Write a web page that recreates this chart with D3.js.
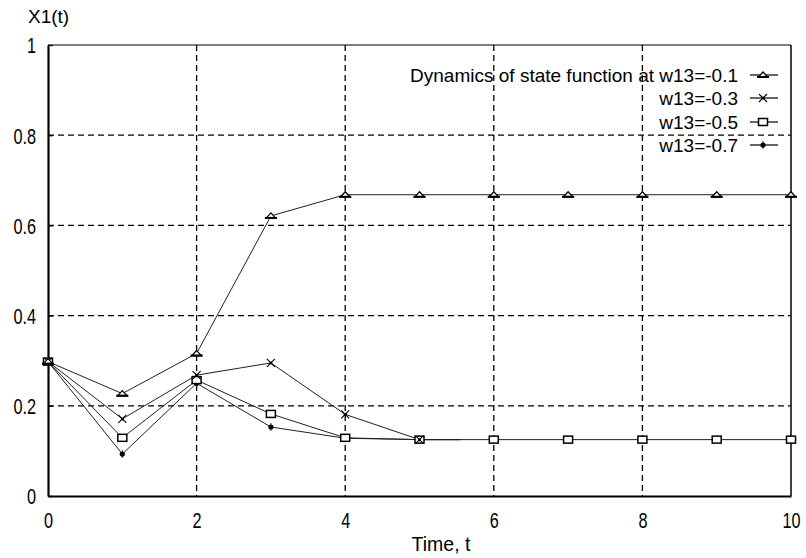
<!DOCTYPE html>
<html><head><meta charset="utf-8">
<script src="https://cdn.jsdelivr.net/npm/d3@7"></script>
<style>body{margin:0;background:#fff}svg{display:block}text{font-family:"Liberation Sans",Arial,sans-serif;fill:#000}</style>
</head><body><svg id="c" width="806" height="558"></svg>
<script>
const xTicks = [0, 2, 4, 6, 8, 10];
const yTicks = [0, 0.2, 0.4, 0.6, 0.8, 1];
const yTickLabels = ["0", "0.2", "0.4", "0.6", "0.8", "1"];
const legendLabels = ["Dynamics of state function at w13=-0.1", "w13=-0.3", "w13=-0.5", "w13=-0.7"];
const markerTypes = ["triangle", "cross", "square", "dot"];

const tA = [0, 1, 2, 3, 4, 5, 6, 7, 8, 9, 10];
const vA = [0.298, 0.227, 0.316, 0.621, 0.668, 0.668, 0.668, 0.668, 0.668, 0.668, 0.668];
const tB = [0, 1, 2, 3, 4, 5, 5.55];
const vB = [0.298, 0.171, 0.268, 0.295, 0.181, 0.125, 0.125];
const tC = [0, 1, 2, 3, 4, 5, 6, 7, 8, 9, 10];
const vC = [0.298, 0.129, 0.257, 0.182, 0.129, 0.125, 0.125, 0.125, 0.125, 0.125, 0.125];
const tD = [0, 1, 2, 3, 4, 5, 5.55];
const vD = [0.298, 0.093, 0.250, 0.153, 0.128, 0.125, 0.125];

const seriesT = [tA, tB, tC, tD];
const seriesV = [vA, vB, vC, vD];

const svg = d3.select("#c");
const L = 48, R = 791, T = 45, B = 496;
const x = d3.scaleLinear().domain([0, 10]).range([L, R]);
const y = d3.scaleLinear().domain([0, 1]).range([B, T]);

// grid
const grid = svg.append("g");
grid.selectAll("line.v").data(xTicks.filter(d => d > 0 && d < 10)).join("line")
  .attr("x1", d => x(d)).attr("x2", d => x(d)).attr("y1", T).attr("y2", B)
  .attr("stroke", "#000").attr("stroke-width", 1.3).attr("stroke-dasharray", "6,4");
grid.selectAll("line.h").data(yTicks.filter(d => d > 0 && d < 1)).join("line")
  .attr("y1", d => y(d)).attr("y2", d => y(d)).attr("x1", L).attr("x2", R)
  .attr("stroke", "#000").attr("stroke-width", 1.3).attr("stroke-dasharray", "6,4");

// frame
svg.append("line").attr("x1", L).attr("x2", R).attr("y1", T).attr("y2", T).attr("stroke", "#000").attr("stroke-width", 1);
svg.append("line").attr("x1", R).attr("x2", R).attr("y1", T).attr("y2", B).attr("stroke", "#000").attr("stroke-width", 1.5);

// axes
const xAxis = d3.axisBottom(x).tickValues(xTicks).tickSize(0).tickPadding(0).tickFormat(d3.format("d"));
const yAxis = d3.axisLeft(y).tickValues(yTicks).tickSizeInner(-5).tickSizeOuter(0).tickPadding(0).tickFormat((d, i) => yTickLabels[i]);
const gx = svg.append("g").attr("transform", `translate(0,${B})`).call(xAxis);
const gy = svg.append("g").attr("transform", `translate(${L},0)`).call(yAxis);
[gx, gy].forEach(g => {
  g.select(".domain").attr("stroke", "#000").attr("stroke-width", 2.2);
  g.selectAll(".tick line").attr("stroke", "#000").attr("stroke-width", 1.3);
  g.selectAll("text").attr("font-size", 22).attr("font-family", '"Liberation Sans",Arial,sans-serif');
});
gx.selectAll("text").attr("dy", null).attr("y", 32).attr("transform", "scale(0.74,1)");
gy.selectAll("text").attr("dy", "0.36em").attr("x", -12 / 0.74).attr("transform", "scale(0.74,1)");

svg.append("text").attr("x", 441).attr("y", 551).attr("text-anchor", "middle").attr("font-size", 19.5).text("Time, t");
svg.append("text").attr("x", 28).attr("y", 23).attr("font-size", 19).text("X1(t)");

// markers
function drawMarker(g, type, cx, cy) {
  if (type === "triangle") {
    g.append("path").attr("d", `M${cx-5},${cy+2.5}L${cx},${cy-3}L${cx+5},${cy+2.5}Z`)
      .attr("fill", "#fff").attr("stroke", "#000").attr("stroke-width", 1.2);
    g.append("line").attr("x1", cx-6).attr("x2", cx+6).attr("y1", cy+2).attr("y2", cy+2).attr("stroke", "#000").attr("stroke-width", 2);
  } else if (type === "cross") {
    g.append("path").attr("d", `M${cx-4},${cy-4}L${cx+4},${cy+4}M${cx-4},${cy+4}L${cx+4},${cy-4}`)
      .attr("stroke", "#000").attr("stroke-width", 1.1).attr("fill", "none");
    g.append("circle").attr("cx", cx).attr("cy", cy).attr("r", 1.5).attr("fill", "#000");
  } else if (type === "square") {
    g.append("rect").attr("x", cx-4.5).attr("y", cy-3.5).attr("width", 9).attr("height", 7)
      .attr("fill", "#fff").attr("stroke", "#000").attr("stroke-width", 1.5);
  } else {
    g.append("circle").attr("cx", cx).attr("cy", cy).attr("r", 2.6).attr("fill", "#000");
    g.append("path").attr("d", `M${cx},${cy-4}L${cx},${cy+4}`).attr("stroke", "#000").attr("stroke-width", 0.8);
  }
}

const line = d3.line().x(d => x(d[0])).y(d => y(d[1]));
const plot = svg.append("g");
const order = [3, 2, 1, 0];
order.forEach(i => {
  const pts = seriesT[i].map((t, j) => [t, seriesV[i][j]]);
  plot.append("path").datum(pts).attr("d", line).attr("fill", "none").attr("stroke", "#222").attr("stroke-width", 1);
});
order.forEach(i => {
  const pts = seriesT[i].map((t, j) => [t, seriesV[i][j]]).filter(p => Number.isInteger(p[0]));
  const g = plot.append("g");
  pts.forEach(p => drawMarker(g, markerTypes[i], x(p[0]), y(p[1])));
});

// legend
const legY = [75, 98, 122, 145];
legendLabels.forEach((lab, i) => {
  svg.append("text").attr("x", 738).attr("y", legY[i]).attr("dy", "0.36em").attr("text-anchor", "end")
    .attr("font-size", 19).text(lab);
  svg.append("line").attr("x1", 750).attr("x2", 778).attr("y1", legY[i]).attr("y2", legY[i]).attr("stroke", "#000").attr("stroke-width", 1.2);
  drawMarker(svg.append("g"), markerTypes[i], 763, legY[i]);
});
</script></body></html>
